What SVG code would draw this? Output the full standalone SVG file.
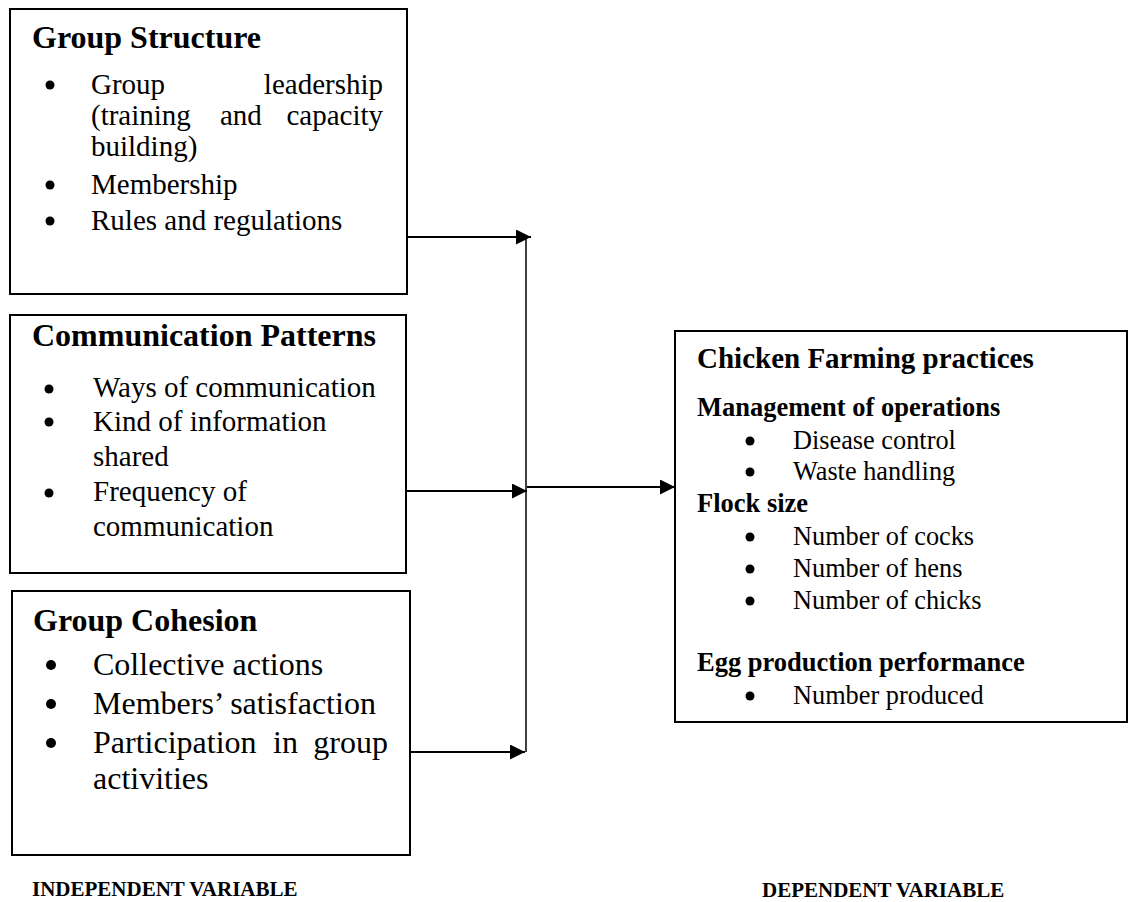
<svg xmlns="http://www.w3.org/2000/svg" width="1129" height="902" viewBox="0 0 1129 902">
<style>
  .box { fill: #ffffff; stroke: #000000; stroke-width: 2; }
  .t { font-family: "Liberation Serif", "Times New Roman", serif; fill: #000000; }
  .h32 { font-size: 32px; font-weight: bold; }
  .b29 { font-size: 29px; }
  .b32 { font-size: 32px; }
  .h29 { font-size: 29px; font-weight: bold; }
  .h26 { font-size: 26.5px; font-weight: bold; }
  .b26 { font-size: 26.3px; }
  .lab { font-size: 21px; font-weight: bold; }
  .dot { fill: #000000; }
  .conn { stroke: #000000; stroke-width: 2; fill: none; }
  .vline { stroke: #000000; stroke-width: 1.5; fill: none; }
</style>
<defs>
  <marker id="arrow" markerUnits="userSpaceOnUse" markerWidth="16" markerHeight="16" refX="15" refY="7.5" orient="auto">
    <path d="M0,0 L15,7.5 L0,15 z" fill="#000000"/>
  </marker>
</defs>

<g id="group-structure">
  <rect class="box" x="10" y="9" width="397" height="285"/>
  <text class="t h32" x="32" y="48">Group Structure</text>
  <circle class="dot" cx="50" cy="85" r="4.5"/>
  <text class="t b29" y="94"><tspan x="91">Group</tspan><tspan x="383" text-anchor="end">leadership</tspan></text>
  <text class="t b29" y="125"><tspan x="91">(training</tspan><tspan x="220">and</tspan><tspan x="383" text-anchor="end">capacity</tspan></text>
  <text class="t b29" x="91" y="156">building)</text>
  <circle class="dot" cx="50" cy="185" r="4.5"/>
  <text class="t b29" x="91" y="194">Membership</text>
  <circle class="dot" cx="50" cy="221" r="4.5"/>
  <text class="t b29" x="91" y="230">Rules and regulations</text>
</g>

<g id="communication-patterns">
  <rect class="box" x="10" y="315" width="396" height="258"/>
  <text class="t h32" x="32" y="346">Communication Patterns</text>
  <circle class="dot" cx="49" cy="389" r="4.5"/>
  <text class="t b29" x="93" y="397">Ways of communication</text>
  <circle class="dot" cx="49" cy="422" r="4.5"/>
  <text class="t b29" x="93" y="431">Kind of information</text>
  <text class="t b29" x="93" y="466">shared</text>
  <circle class="dot" cx="49" cy="493" r="4.5"/>
  <text class="t b29" x="93" y="501">Frequency of</text>
  <text class="t b29" x="93" y="536">communication</text>
</g>

<g id="group-cohesion">
  <rect class="box" x="12" y="591" width="398" height="264"/>
  <text class="t h32" x="33" y="631">Group Cohesion</text>
  <circle class="dot" cx="51" cy="665" r="5"/>
  <text class="t b32" x="93" y="675">Collective actions</text>
  <circle class="dot" cx="51" cy="704" r="5"/>
  <text class="t b32" x="93" y="714">Members’ satisfaction</text>
  <circle class="dot" cx="51" cy="743" r="5"/>
  <text class="t b32" y="753"><tspan x="93">Participation</tspan><tspan x="273">in</tspan><tspan x="388" text-anchor="end">group</tspan></text>
  <text class="t b32" x="93" y="789">activities</text>
</g>

<g id="chicken-farming-practices">
  <rect class="box" x="675" y="331" width="452" height="391"/>
  <text class="t h29" x="697" y="368">Chicken Farming practices</text>
  <text class="t h26" x="697" y="416">Management of operations</text>
  <circle class="dot" cx="750" cy="441" r="4.5"/>
  <text class="t b26" x="793" y="449">Disease control</text>
  <circle class="dot" cx="750" cy="472" r="4.5"/>
  <text class="t b26" x="793" y="480">Waste handling</text>
  <text class="t h26" x="697" y="512">Flock size</text>
  <circle class="dot" cx="750" cy="537" r="4.5"/>
  <text class="t b26" x="793" y="545">Number of cocks</text>
  <circle class="dot" cx="750" cy="569" r="4.5"/>
  <text class="t b26" x="793" y="577">Number of hens</text>
  <circle class="dot" cx="750" cy="601" r="4.5"/>
  <text class="t b26" x="793" y="609">Number of chicks</text>
  <text class="t h26" x="697" y="671">Egg production performance</text>
  <circle class="dot" cx="750" cy="696" r="4.5"/>
  <text class="t b26" x="793" y="704">Number produced</text>
</g>

<g id="connectors">
  <line class="vline" x1="526" y1="237" x2="526" y2="752"/>
  <line class="conn" x1="408" y1="237" x2="531" y2="237" marker-end="url(#arrow)"/>
  <line class="conn" x1="406" y1="491" x2="527" y2="491" marker-end="url(#arrow)"/>
  <line class="conn" x1="410" y1="752" x2="525" y2="752" marker-end="url(#arrow)"/>
  <line class="conn" x1="527" y1="487" x2="675" y2="487" marker-end="url(#arrow)"/>
</g>

<g id="labels">
  <text class="t lab" x="32" y="896">INDEPENDENT VARIABLE</text>
  <text class="t lab" x="762" y="897">DEPENDENT VARIABLE</text>
</g>
</svg>
